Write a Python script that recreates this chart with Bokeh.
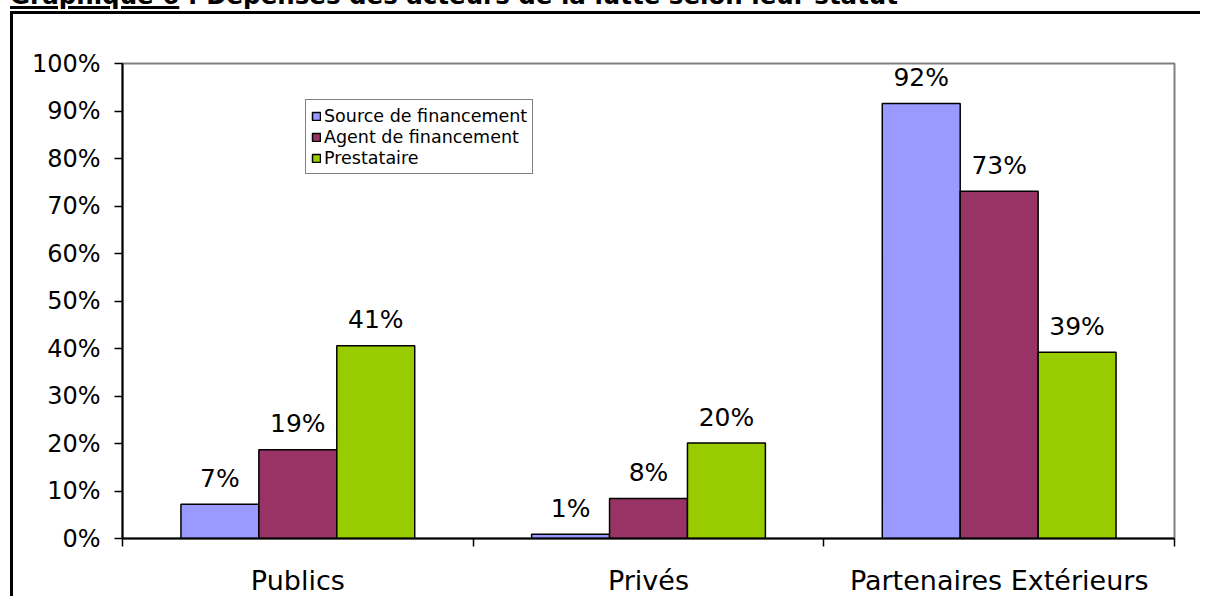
from bokeh.plotting import figure
from bokeh.layouts import column
from bokeh.models import (Range1d, FixedTicker, PrintfTickFormatter, Legend, LegendItem,
                          ColumnDataSource, Div)
from bokeh.core.properties import value
from bokeh.embed import file_html
from bokeh.resources import INLINE

categories = ["Publics", "Privés", "Partenaires Extérieurs"]
series_names = ["Source de financement", "Agent de financement", "Prestataire"]
source_fin = [7.2, 0.9, 91.6]
agent_fin = [18.7, 8.4, 73.1]
prestataire = [40.6, 20.1, 39.2]
series_colors = ["#9999FF", "#993366", "#99CC00"]
y_ticks = [0, 10, 20, 30, 40, 50, 60, 70, 80, 90, 100]
title_label = "Graphique 6"
title_rest = " : Dépenses des acteurs de la lutte selon leur statut"

FONT = "DejaVu Sans"

# heading of the page (its upper half lies above the window, as in the source)
title_div = Div(
    text=('<div style="font-family:\'DejaVu Sans\';font-weight:bold;font-size:24.5px;'
          'line-height:25px;white-space:nowrap;margin:0;padding:0;color:black">'
          '<span style="text-decoration:underline;text-decoration-thickness:3px;'
          'text-underline-offset:2px">' + title_label + '</span>' + title_rest + '</div>'),
    width=1190, height=27, margin=(-17, 0, 0, 10))

p = figure(width=1190, height=585, output_backend="svg", toolbar_location=None,
           x_range=Range1d(0, len(categories)), y_range=Range1d(0, 100),
           min_border_left=109, min_border_right=29, min_border_top=49, min_border_bottom=61,
           margin=(1, 0, 0, 10),
           styles={"border-top": "3px solid black", "border-left": "3px solid black"})
p.background_fill_color = "white"
p.border_fill_color = "white"
p.outline_line_color = "#808080"
p.outline_line_width = 2
p.xgrid.visible = False
p.ygrid.visible = False

# y axis
p.yaxis.ticker = FixedTicker(ticks=y_ticks, minor_ticks=[])
p.yaxis.formatter = PrintfTickFormatter(format="%d%%")
p.yaxis.axis_line_color = "black"
p.yaxis.axis_line_width = 2
p.yaxis.major_tick_line_color = "black"
p.yaxis.major_tick_line_width = 1.5
p.yaxis.major_tick_out = 8
p.yaxis.major_tick_in = 0
p.yaxis.major_label_standoff = 14
p.yaxis.major_label_text_font = FONT
p.yaxis.major_label_text_font_size = "24px"
p.yaxis.major_label_text_color = "black"

# x axis: labels at category centres, ticks at category boundaries
centers = [i + 0.5 for i in range(len(categories))]
bounds = [float(i) for i in range(len(categories) + 1)]
p.xaxis.ticker = FixedTicker(ticks=centers, minor_ticks=bounds)
p.xaxis.major_label_overrides = {c: name for c, name in zip(centers, categories)}
p.xaxis.axis_line_color = "black"
p.xaxis.axis_line_width = 2
p.xaxis.major_tick_line_color = None
p.xaxis.minor_tick_line_color = "black"
p.xaxis.minor_tick_line_width = 1.5
p.xaxis.minor_tick_out = 8
p.xaxis.minor_tick_in = 0
p.xaxis.major_label_standoff = 18
p.xaxis.major_label_text_font = FONT
p.xaxis.major_label_text_font_size = "27px"
p.xaxis.major_label_text_color = "black"

bar_w = 1.0 / 4.5
offsets = [-bar_w, 0.0, bar_w]
all_series = [source_fin, agent_fin, prestataire]

items = []
for name, vals, col, off in zip(series_names, all_series, series_colors, offsets):
    src = ColumnDataSource(dict(
        x=[c + off for c in centers],
        top=vals,
        lab=["%d%%" % round(v) for v in vals],
    ))
    r = p.vbar(x="x", top="top", bottom=0, width=bar_w, source=src,
               fill_color=col, line_color="black", line_width=1.5)
    p.text(x="x", y="top", text="lab", source=src, text_align="center",
           text_baseline="alphabetic", y_offset=-26, text_font=value(FONT),
           text_font_size="25px", text_color="black")
    items.append(LegendItem(label=name, renderers=[r]))

legend = Legend(items=items, location=(183, 364), orientation="vertical",
                label_text_font=FONT, label_text_font_size="17.5px",
                label_text_color="black", label_height=21, label_standoff=3,
                glyph_width=10, glyph_height=10, spacing=0, padding=5, margin=0,
                border_line_color="black", border_line_width=1.2,
                background_fill_color="white", background_fill_alpha=1.0)
p.add_layout(legend, "center")

page = column(title_div, p, spacing=0)

open("out.html", "w").write(file_html(page, INLINE))
